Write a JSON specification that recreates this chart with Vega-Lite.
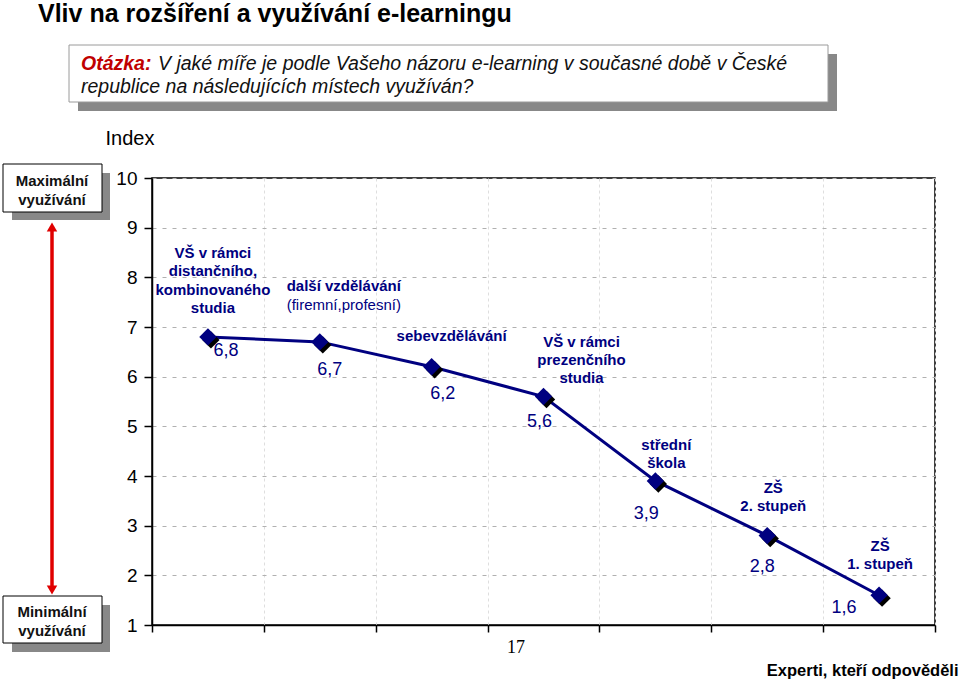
{
  "$schema": "https://vega.github.io/schema/vega-lite/v6.json",
  "width": 783,
  "height": 447,
  "autosize": {"type": "none"},
  "padding": {"left": 152, "top": 178, "right": 25, "bottom": 55},
  "background": "white",
  "config": {"view": {"stroke": "#000", "strokeWidth": 1.5}, "font": "Liberation Sans"},
  "data": {"values": [
    {"misto": "VŠ distanční", "index": 6.8, "popis": "VŠ v rámci\ndistančního,\nkombinovaného\nstudia", "hodnota": "6,8"},
    {"misto": "další vzdělávání", "index": 6.7, "popis": "další vzdělávání", "poznamka": "(firemní,profesní)", "hodnota": "6,7"},
    {"misto": "sebevzdělávání", "index": 6.2, "popis": "sebevzdělávání", "hodnota": "6,2"},
    {"misto": "VŠ prezenční", "index": 5.6, "popis": "VŠ v rámci\nprezenčního\nstudia", "hodnota": "5,6"},
    {"misto": "střední škola", "index": 3.9, "popis": "střední\nškola", "hodnota": "3,9"},
    {"misto": "ZŠ 2. stupeň", "index": 2.8, "popis": "ZŠ\n2. stupeň", "hodnota": "2,8"},
    {"misto": "ZŠ 1. stupeň", "index": 1.6, "popis": "ZŠ\n1. stupeň", "hodnota": "1,6"}
  ]},
  "encoding": {
    "x": {"field": "misto", "type": "nominal", "sort": null, "scale": {"paddingInner": 0, "paddingOuter": 0}},
    "y": {"field": "index", "type": "quantitative", "scale": {"domain": [1, 10], "nice": false, "zero": false}}
  },
  "layer": [
    {
      "mark": {"type": "line", "color": "#000080", "strokeWidth": 3},
      "encoding": {
        "x": {"field": "misto", "type": "nominal", "sort": null, "scale": {"paddingInner": 0, "paddingOuter": 0},
          "axis": {"labels": false, "title": "Experti, kteří odpověděli", "titleX": 806, "titleY": 45, "titleAlign": "right", "titleBaseline": "middle", "titleFontSize": 16.5, "titleFontWeight": "bold", "titleColor": "#000", "titleFont": "Liberation Sans", "tickBand": "extent", "tickSize": 7, "tickColor": "#000", "tickWidth": 1.5, "domainColor": "#000", "domainWidth": 1.5, "grid": true, "gridColor": "#dedede", "gridDash": [3, 3], "gridWidth": 1}},
        "y": {"field": "index", "type": "quantitative", "scale": {"domain": [1, 10], "nice": false, "zero": false},
          "axis": {"values": [1, 2, 3, 4, 5, 6, 7, 8, 9, 10], "title": "Index", "titleAngle": 0, "titleX": -47, "titleY": -40, "titleAlign": "left", "titleBaseline": "middle", "titleFontSize": 20, "titleFontWeight": "normal", "titleColor": "#000", "titleFont": "Liberation Sans", "labelFontSize": 19, "labelColor": "#000", "labelFont": "Liberation Sans", "labelPadding": 7, "tickSize": 8, "tickColor": "#000", "tickWidth": 1.5, "domainColor": "#000", "domainWidth": 1.5, "grid": true, "gridColor": "#b0b0b0", "gridDash": [4, 6], "gridWidth": 1}}
      }
    },
    {"mark": {"type": "point", "shape": "diamond", "filled": true, "size": 300, "color": "#000000", "opacity": 1, "xOffset": 3, "yOffset": 3}},
    {"mark": {"type": "point", "shape": "diamond", "filled": true, "size": 300, "color": "#000080", "opacity": 1}},
    {"transform": [{"filter": "datum.misto === 'VŠ distanční'"}], "mark": {"type": "text", "fontSize": 15, "fontWeight": "bold", "color": "#000080", "lineBreak": "\n", "lineHeight": 18.3, "baseline": "middle", "align": "center", "dx": 5, "dy": -84}, "encoding": {"text": {"field": "popis"}}},
    {"transform": [{"filter": "datum.misto === 'další vzdělávání'"}], "mark": {"type": "text", "fontSize": 15, "fontWeight": "bold", "color": "#000080", "baseline": "middle", "align": "center", "dx": 24, "dy": -56}, "encoding": {"text": {"field": "popis"}}},
    {"transform": [{"filter": "datum.misto === 'další vzdělávání'"}], "mark": {"type": "text", "fontSize": 15, "fontWeight": "normal", "color": "#000080", "baseline": "middle", "align": "center", "dx": 24, "dy": -37}, "encoding": {"text": {"field": "poznamka"}}},
    {"transform": [{"filter": "datum.misto === 'sebevzdělávání'"}], "mark": {"type": "text", "fontSize": 15, "fontWeight": "bold", "color": "#000080", "baseline": "middle", "align": "center", "dx": 20, "dy": -31}, "encoding": {"text": {"field": "popis"}}},
    {"transform": [{"filter": "datum.misto === 'VŠ prezenční'"}], "mark": {"type": "text", "fontSize": 15, "fontWeight": "bold", "color": "#000080", "lineBreak": "\n", "lineHeight": 18.3, "baseline": "middle", "align": "center", "dx": 38, "dy": -55}, "encoding": {"text": {"field": "popis"}}},
    {"transform": [{"filter": "datum.misto === 'střední škola'"}], "mark": {"type": "text", "fontSize": 15, "fontWeight": "bold", "color": "#000080", "lineBreak": "\n", "lineHeight": 18.3, "baseline": "middle", "align": "center", "dx": 11, "dy": -36}, "encoding": {"text": {"field": "popis"}}},
    {"transform": [{"filter": "datum.misto === 'ZŠ 2. stupeň'"}], "mark": {"type": "text", "fontSize": 15, "fontWeight": "bold", "color": "#000080", "lineBreak": "\n", "lineHeight": 18.3, "baseline": "middle", "align": "center", "dx": 6, "dy": -48}, "encoding": {"text": {"field": "popis"}}},
    {"transform": [{"filter": "datum.misto === 'ZŠ 1. stupeň'"}], "mark": {"type": "text", "fontSize": 15, "fontWeight": "bold", "color": "#000080", "lineBreak": "\n", "lineHeight": 18.3, "baseline": "middle", "align": "center", "dx": 1, "dy": -49}, "encoding": {"text": {"field": "popis"}}},
    {"transform": [{"filter": "datum.misto === 'VŠ distanční'"}], "mark": {"type": "text", "fontSize": 18, "color": "#000080", "baseline": "middle", "align": "center", "dx": 18, "dy": 14}, "encoding": {"text": {"field": "hodnota"}}},
    {"transform": [{"filter": "datum.misto === 'další vzdělávání'"}], "mark": {"type": "text", "fontSize": 18, "color": "#000080", "baseline": "middle", "align": "center", "dx": 10, "dy": 28}, "encoding": {"text": {"field": "hodnota"}}},
    {"transform": [{"filter": "datum.misto === 'sebevzdělávání'"}], "mark": {"type": "text", "fontSize": 18, "color": "#000080", "baseline": "middle", "align": "center", "dx": 11, "dy": 27}, "encoding": {"text": {"field": "hodnota"}}},
    {"transform": [{"filter": "datum.misto === 'VŠ prezenční'"}], "mark": {"type": "text", "fontSize": 18, "color": "#000080", "baseline": "middle", "align": "center", "dx": -4, "dy": 25}, "encoding": {"text": {"field": "hodnota"}}},
    {"transform": [{"filter": "datum.misto === 'střední škola'"}], "mark": {"type": "text", "fontSize": 18, "color": "#000080", "baseline": "middle", "align": "center", "dx": -9, "dy": 33}, "encoding": {"text": {"field": "hodnota"}}},
    {"transform": [{"filter": "datum.misto === 'ZŠ 2. stupeň'"}], "mark": {"type": "text", "fontSize": 18, "color": "#000080", "baseline": "middle", "align": "center", "dx": -5, "dy": 31}, "encoding": {"text": {"field": "hodnota"}}},
    {"transform": [{"filter": "datum.misto === 'ZŠ 1. stupeň'"}], "mark": {"type": "text", "fontSize": 18, "color": "#000080", "baseline": "middle", "align": "center", "dx": -35, "dy": 13}, "encoding": {"text": {"field": "hodnota"}}},
    {"data": {"values": [{"t": "Vliv na rozšíření a využívání e-learningu"}]}, "mark": {"type": "text", "fontSize": 25, "fontWeight": "bold", "color": "#000", "align": "left", "baseline": "alphabetic"}, "encoding": {"x": {"value": -114}, "y": {"value": -156}, "text": {"field": "t"}}},
    {"data": {"values": [{}]}, "mark": {"type": "rect", "color": "#888888"}, "encoding": {"x": {"value": -74}, "x2": {"value": 685}, "y": {"value": -124}, "y2": {"value": -67}}},
    {"data": {"values": [{}]}, "mark": {"type": "rect", "fill": "#ffffff", "stroke": "#9a9a9a", "strokeWidth": 1}, "encoding": {"x": {"value": -83}, "x2": {"value": 676}, "y": {"value": -133}, "y2": {"value": -76}}},
    {"data": {"values": [{"t": "Otázka:"}]}, "mark": {"type": "text", "fontSize": 19.5, "fontWeight": "bold", "fontStyle": "italic", "color": "#c00000", "align": "left", "baseline": "alphabetic"}, "encoding": {"x": {"value": -71}, "y": {"value": -108}, "text": {"field": "t"}}},
    {"data": {"values": [{"t": "V jaké míře je podle Vašeho názoru e-learning v současné době v České"}]}, "mark": {"type": "text", "fontSize": 19.5, "fontStyle": "italic", "color": "#111111", "align": "left", "baseline": "alphabetic"}, "encoding": {"x": {"value": 6}, "y": {"value": -108}, "text": {"field": "t"}}},
    {"data": {"values": [{"t": "republice na následujících místech využíván?"}]}, "mark": {"type": "text", "fontSize": 19.5, "fontStyle": "italic", "color": "#111111", "align": "left", "baseline": "alphabetic"}, "encoding": {"x": {"value": -71}, "y": {"value": -85}, "text": {"field": "t"}}},
    {"data": {"values": [{}]}, "mark": {"type": "rect", "color": "#888888"}, "encoding": {"x": {"value": -140}, "x2": {"value": -42}, "y": {"value": -5}, "y2": {"value": 42}}},
    {"data": {"values": [{}]}, "mark": {"type": "rect", "fill": "#ffffff", "stroke": "#000", "strokeWidth": 1}, "encoding": {"x": {"value": -149}, "x2": {"value": -50}, "y": {"value": -14}, "y2": {"value": 34}}},
    {"data": {"values": [{"t": "Maximální\nvyužívání"}]}, "mark": {"type": "text", "fontSize": 15, "fontWeight": "bold", "color": "#111", "align": "center", "baseline": "middle", "lineBreak": "\n", "lineHeight": 19}, "encoding": {"x": {"value": -100}, "y": {"value": 3}, "text": {"field": "t"}}},
    {"data": {"values": [{}]}, "mark": {"type": "rect", "color": "#888888"}, "encoding": {"x": {"value": -140}, "x2": {"value": -42}, "y": {"value": 427}, "y2": {"value": 474}}},
    {"data": {"values": [{}]}, "mark": {"type": "rect", "fill": "#ffffff", "stroke": "#000", "strokeWidth": 1}, "encoding": {"x": {"value": -149}, "x2": {"value": -50}, "y": {"value": 418}, "y2": {"value": 465}}},
    {"data": {"values": [{"t": "Minimální\nvyužívání"}]}, "mark": {"type": "text", "fontSize": 15, "fontWeight": "bold", "color": "#111", "align": "center", "baseline": "middle", "lineBreak": "\n", "lineHeight": 19}, "encoding": {"x": {"value": -100}, "y": {"value": 434}, "text": {"field": "t"}}},
    {"data": {"values": [{}]}, "mark": {"type": "rule", "color": "#e00000", "strokeWidth": 3.5}, "encoding": {"x": {"value": -100}, "y": {"value": 50}, "y2": {"value": 411}}},
    {"data": {"values": [{}]}, "mark": {"type": "point", "shape": "triangle-up", "filled": true, "size": 110, "color": "#e00000", "opacity": 1}, "encoding": {"x": {"value": -100}, "y": {"value": 49}}},
    {"data": {"values": [{}]}, "mark": {"type": "point", "shape": "triangle-down", "filled": true, "size": 110, "color": "#e00000", "opacity": 1}, "encoding": {"x": {"value": -100}, "y": {"value": 412}}},
    {"data": {"values": [{"t": "17"}]}, "mark": {"type": "text", "font": "Liberation Serif", "fontSize": 18, "color": "#000", "align": "center", "baseline": "middle"}, "encoding": {"x": {"value": 364}, "y": {"value": 470}, "text": {"field": "t"}}}
  ]
}
